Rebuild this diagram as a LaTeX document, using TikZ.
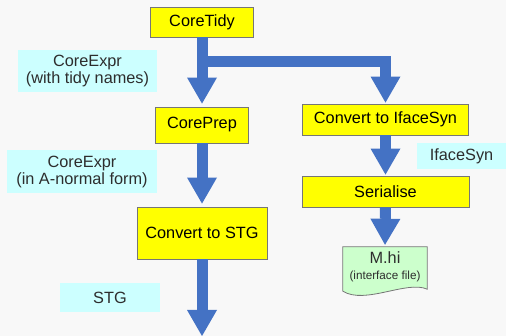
\documentclass[tikz,border=0pt]{standalone}
\usepackage{fontspec}
\setmainfont{Liberation Sans}
\usetikzlibrary{arrows.meta,calc}

\definecolor{bg}{RGB}{248,248,248}
\definecolor{flow}{RGB}{68,114,196}
\definecolor{stagefill}{RGB}{255,255,0}
\definecolor{typefill}{RGB}{204,255,255}
\definecolor{filefill}{RGB}{204,255,204}
\definecolor{edgegray}{RGB}{118,118,118}
\definecolor{inkgray}{RGB}{45,45,45}

\tikzset{
  bigfont/.style={font=\fontsize{16.3}{17}\selectfont},
  stage/.style={bigfont, draw=edgegray, line width=0.9pt, fill=stagefill,
    inner sep=0pt, text=black},
  typelabel/.style={bigfont, fill=typefill, inner sep=0pt, align=center,
    text=inkgray},
  flowarrow/.style={draw=flow, line width=11pt, line join=miter,
    -{Triangle[width=30pt,length=26pt,line width=0pt]}},
}

\begin{document}
\begin{tikzpicture}[x=1pt,y=-1pt]
  \useasboundingbox (0,0) rectangle (506,336);
  \fill[bg] (0,0) rectangle (506,336);

  % pipeline stages
  \node[stage, minimum width=103pt, minimum height=30pt] (tidy) at (202,22) {CoreTidy};
  \node[stage, minimum width=93pt, minimum height=36pt] (prep) at (202,125) {CorePrep};
  \node[stage, minimum width=130pt, minimum height=52pt] (stg) at (202,233) {Convert to STG};
  \node[stage, minimum width=166pt, minimum height=31pt] (iface) at (385.5,119.5) {Convert to IfaceSyn};
  \node[stage, minimum width=167pt, minimum height=31pt] (ser) at (385.5,191.5) {Serialise};

  % intermediate representations
  \node[typelabel, minimum width=139pt, minimum height=42pt] (t1) at (87.5,71) {CoreExpr\\(with tidy names)};
  \node[typelabel, minimum width=150pt, minimum height=43pt] (t2) at (82,171.5) {CoreExpr\\(in A-normal form)};
  \node[typelabel, minimum width=100pt, minimum height=29pt] (t3) at (110,297.5) {STG};
  \node[typelabel, minimum width=89pt, minimum height=26pt] (t4) at (461.5,156) {IfaceSyn};

  % interface file (document shape)
  \node[minimum width=84pt, minimum height=40pt, inner sep=0pt] (mhi) at (385,267) {};
  \filldraw[fill=filefill, draw=edgegray, line width=0.8pt]
    (mhi.north west) -- (mhi.north east) -- ($(mhi.south east)+(0,2)$)
    .. controls (407,280) and (365,305) .. ($(mhi.south west)+(0,4)$) -- cycle;
  \node[inner sep=0pt, text=inkgray, font=\fontsize{16.3}{17}\selectfont]
    (mhiname) at (385,258) {M.hi};
  \node[inner sep=0pt, text=inkgray, font=\fontsize{11.7}{13}\selectfont]
    (mhinote) at (385,276) {(interface file)};

  % data flow
  \coordinate (out) at (202,336);
  \coordinate (split) at ($(tidy.south)+(0,24)$);
  \draw[flowarrow, shorten >=3pt] (tidy.south) -- (prep.north);
  \draw[flowarrow, shorten >=1pt] (split) -| (iface.north);
  \draw[flowarrow, shorten >=3pt] (prep.south) -- (stg.north);
  \draw[flowarrow] (stg.south) -- (out);
  \draw[flowarrow, shorten >=1pt] (iface.south) -- (ser.north);
  \draw[flowarrow, shorten >=2pt] (ser.south) -- (mhi.north);
\end{tikzpicture}
\end{document}
